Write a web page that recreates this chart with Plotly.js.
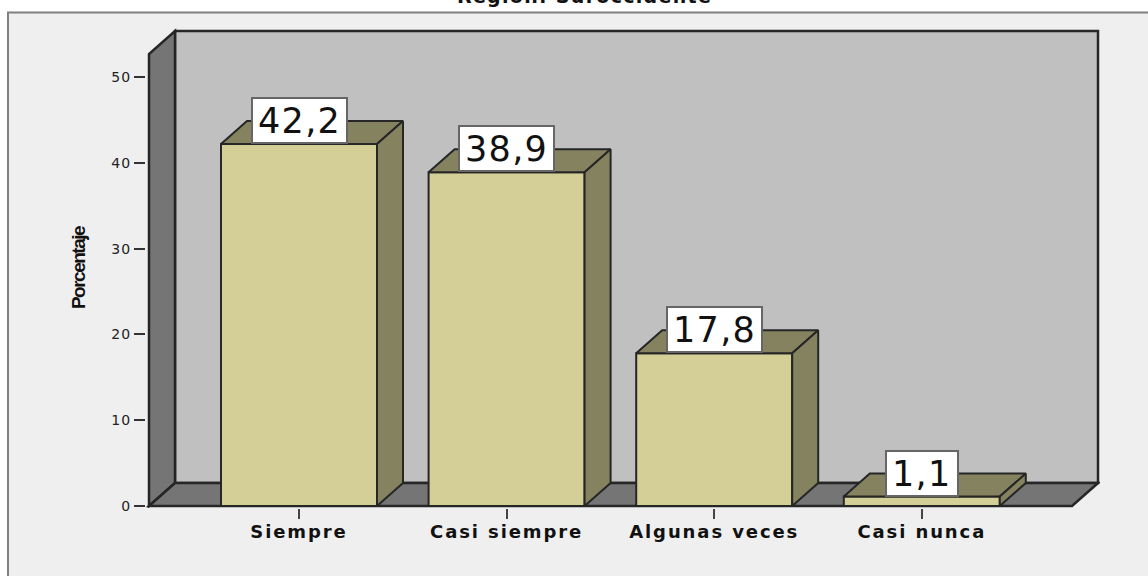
<!DOCTYPE html>
<html>
<head>
<meta charset="utf-8">
<script src="https://cdn.plot.ly/plotly-3.0.1.min.js"></script>
<style>html,body{margin:0;padding:0;background:#fff;overflow:hidden}#c{width:1148px;height:576px}
.xtick text{letter-spacing:1.9px}
.ytick text{letter-spacing:1px}
.ytitle{letter-spacing:-1.5px}
.annotation-text{letter-spacing:1.3px}</style>
</head>
<body>
<div id="c"></div>
<script>
const categories = ["Siempre", "Casi siempre", "Algunas veces", "Casi nunca"];
const values = [42.2, 38.9, 17.8, 1.1];
const yTicks = [0, 10, 20, 30, 40, 50];
const chartTitle = "Región: Suroccidente";
const yTitle = "Porcentaje";

const W = 1148, H = 576;
const L = 146, R = 1100, T = 28, B = 508;
const PX_X = 207.6, PX_Y = 8.58, X0_PX = 299, Y0_PX = 506;
const xRange = [(L - X0_PX) / PX_X, (R - X0_PX) / PX_X];
const yRange = [(Y0_PX - B) / PX_Y, (Y0_PX - T) / PX_Y];
const barW = 156 / PX_X, dx = 26 / PX_X, dy = 23 / PX_Y;
const floorL = (149 - X0_PX) / PX_X, floorR = (1072 - X0_PX) / PX_X;
const wallTop = (Y0_PX - 54) / PX_Y;

const ink = "#262626", wallDark = "#757575", wallBack = "#c0c0c0", barFront = "#d3cf97", barShade = "#858260";
const poly = (pts, fill) => ({
  type: "path", xref: "x", yref: "y", layer: "below",
  path: "M" + pts.map(p => p[0] + "," + p[1]).join("L") + "Z",
  fillcolor: fill, line: {color: ink, width: 2.5}
});

const shapes = [
  {type: "rect", xref: "paper", yref: "paper", layer: "below",
   x0: (8 - L) / (R - L), x1: (1170 - L) / (R - L),
   y0: (B - 600) / (B - T), y1: (B - 12.5) / (B - T),
   fillcolor: "#efefef", line: {color: "#808080", width: 2}},
  poly([[floorL + dx, dy], [floorR + dx, dy], [floorR + dx, wallTop + dy], [floorL + dx, wallTop + dy]], wallBack),
  poly([[floorL, 0], [floorL + dx, dy], [floorL + dx, wallTop + dy], [floorL, wallTop]], wallDark),
  poly([[floorL, 0], [floorL + dx, dy], [floorR + dx, dy], [floorR, 0]], wallDark)
];

const xs = categories.map((_, i) => i);
const traces = [{
  type: "bar", x: xs, y: values, width: barW,
  marker: {color: barFront, line: {color: ink, width: 2}},
  hoverinfo: "skip", showlegend: false
}];
values.forEach((v, i) => {
  const a = i - barW / 2, b = i + barW / 2;
  [
    [[a, v], [b, v], [b + dx, v + dy], [a + dx, v + dy], [a, v]],
    [[b, 0], [b + dx, dy], [b + dx, v + dy], [b, v], [b, 0]]
  ].forEach(f => traces.push({
    type: "scatter", mode: "lines", x: f.map(p => p[0]), y: f.map(p => p[1]),
    fill: "toself", fillcolor: barShade, line: {color: ink, width: 2},
    hoverinfo: "skip", showlegend: false
  }));
});

const annotations = values.map((v, i) => ({
  x: i, y: v, xref: "x", yref: "y", xanchor: "center", yanchor: "bottom",
  text: String(v).replace(".", ","), showarrow: false, height: 33, align: "center", valign: "middle",
  font: {family: "DejaVu Sans", size: 35, color: "#111"},
  bgcolor: "#ffffff", bordercolor: "#666666", borderwidth: 2, borderpad: 5
}));
annotations.push({
  xref: "paper", yref: "paper", x: (584 - L) / (R - L), y: (B - 8) / (B - T),
  yanchor: "bottom", xanchor: "center", showarrow: false, text: "<b>" + chartTitle + "</b>",
  font: {family: "DejaVu Sans", size: 19, color: "#111"}, borderpad: 0
});

const layout = {
  width: W, height: H, margin: {l: L, r: W - R, t: T, b: H - B, pad: 0},
  paper_bgcolor: "#ffffff", plot_bgcolor: "rgba(0,0,0,0)", showlegend: false, hovermode: false,
  shapes, annotations,
  xaxis: {
    range: xRange, tickmode: "array", tickvals: xs, ticktext: categories.map(c => "<b>" + c + "</b>"),
    ticks: "outside", ticklen: 10, tickwidth: 2, tickcolor: "#444", showgrid: false, zeroline: false, showline: false,
    ticklabelstandoff: -3,
    tickfont: {family: "DejaVu Sans", size: 18, color: "#111"}, fixedrange: true
  },
  yaxis: {
    range: yRange, tickmode: "array", tickvals: yTicks, ticks: "outside", ticklen: 11, tickwidth: 2, tickcolor: "#333",
    showgrid: false, zeroline: false, showline: false, fixedrange: true,
    tickfont: {family: "DejaVu Sans", size: 14, color: "#222"},
    title: {text: "<b>" + yTitle + "</b>", standoff: 20, font: {family: "Liberation Sans", size: 19, color: "#111"}}
  }
};
Plotly.newPlot("c", traces, layout, {displayModeBar: false, staticPlot: true});
</script>
</body>
</html>
